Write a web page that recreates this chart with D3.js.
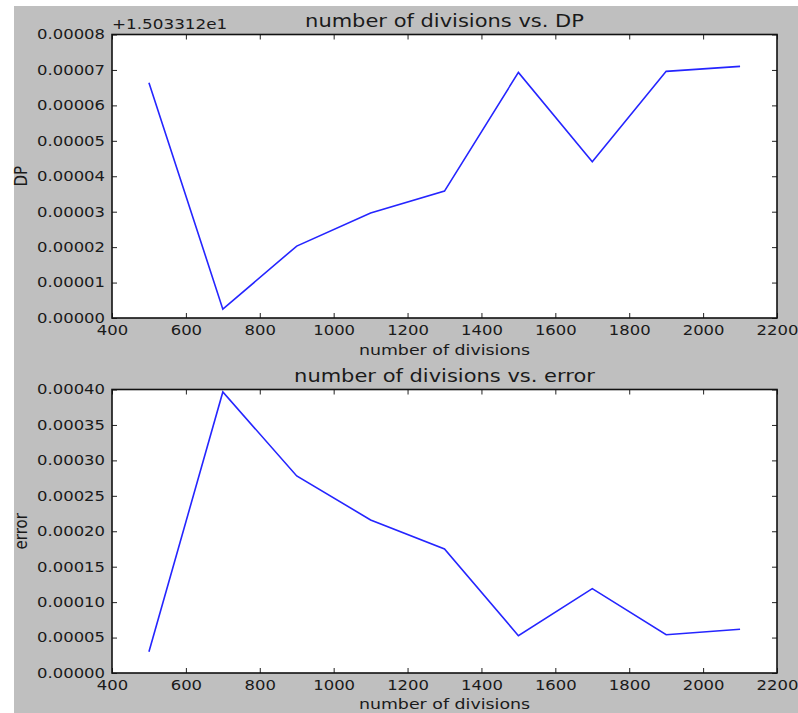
<!DOCTYPE html>
<html>
<head>
<meta charset="utf-8">
<script src="https://cdn.jsdelivr.net/npm/d3@7"></script>
<style>
  body { margin: 0; background: #fff; }
  text { font-family: "DejaVu Sans", sans-serif; fill: #1a1a1a; }
</style>
</head>
<body>
<div id="chart"></div>
<script>

// number of divisions used in each run
var divisions = [500, 700, 900, 1100, 1300, 1500, 1700, 1900, 2100];

// DP values, shown as offset from +1.503312e1
var dpOffset = [6.64e-5, 0.25e-5, 2.03e-5, 2.96e-5, 3.58e-5, 6.93e-5, 4.41e-5, 6.96e-5, 7.10e-5];

// error values
var errorValues = [3.0e-5, 3.965e-4, 2.78e-4, 2.16e-4, 1.75e-4, 0.527e-4, 1.19e-4, 0.54e-4, 0.617e-4];

var xTicks = [400, 600, 800, 1000, 1200, 1400, 1600, 1800, 2000, 2200];
var dpTicks = [0, 1e-5, 2e-5, 3e-5, 4e-5, 5e-5, 6e-5, 7e-5, 8e-5];
var errTicks = [0, 5e-5, 1e-4, 1.5e-4, 2e-4, 2.5e-4, 3e-4, 3.5e-4, 4e-4];

var width = 798;
var height = 713;

// the source image is stretched sideways, so the text is too
var sx = 1.2;

var svg = d3.select('#chart')
  .append('svg')
    .attr('width', width)
    .attr('height', height);

// grey figure background
svg.append('rect')
  .attr('x', 14)
  .attr('y', 6)
  .attr('width', width - 14)
  .attr('height', height - 6)
  .style('fill', '#bfbfbf');

var left = 112, right = 777;

var x = d3.scaleLinear()
  .domain([400, 2200])
  .range([left, right]);

// text placed at (tx, ty) and widened by sx
var addText = function(g, tx, ty, str, size, anchor, rotate){
  var t = g.append('text')
    .attr('transform', 'translate(' + tx + ',' + ty + ') scale(' + sx + ',1)' + (rotate ? ' rotate(-90)' : ''))
    .attr('text-anchor', anchor)
    .style('font-size', size + 'px')
    .text(str);
  return t;
}

/////////////////////////////
// one panel of the figure //
/////////////////////////////

var drawPanel = function(opts){
  var top = opts.top, bottom = opts.bottom;

  var y = d3.scaleLinear()
    .domain([0, opts.yMax])
    .range([bottom, top]);

  var g = svg.append('g');

  g.append('rect')
    .attr('x', left)
    .attr('y', top)
    .attr('width', right - left)
    .attr('height', bottom - top)
    .style('fill', '#fff');

  var line = d3.line()
    .x(function(d, i){ return x(divisions[i]) })
    .y(function(d){ return y(d) });

  g.append('path')
    .datum(opts.values)
    .attr('d', line)
    .style('fill', 'none')
    .style('stroke', '#2525ff')
    .style('stroke-width', 1.6);

  // ticks point inward on all four sides
  var xAxis = g.append('g')
    .attr('transform', 'translate(0,' + bottom + ')')
    .call(d3.axisBottom(x).tickValues(xTicks).tickSize(-5).tickPadding(7).tickFormat(d3.format('d')));
  var topAxis = g.append('g')
    .attr('transform', 'translate(0,' + top + ')')
    .call(d3.axisTop(x).tickValues(xTicks).tickSize(-5).tickFormat(''));

  var yAxis = g.append('g')
    .attr('transform', 'translate(' + left + ',0)')
    .call(d3.axisLeft(y).tickValues(opts.ticks).tickSize(-5).tickFormat(d3.format('.5f')));
  var rightAxis = g.append('g')
    .attr('transform', 'translate(' + right + ',0)')
    .call(d3.axisRight(y).tickValues(opts.ticks).tickSize(-5).tickFormat(''));

  [xAxis, topAxis, yAxis, rightAxis].forEach(function(a){
    a.select('.domain').remove();
    a.selectAll('line').style('stroke', '#222');
    a.selectAll('text')
      .style('font-size', '13.7px')
      .style('fill', '#1a1a1a')
      .attr('transform', 'scale(' + sx + ',1)');
  });
  // right edge of the y labels sits 7px left of the axis
  yAxis.selectAll('text').attr('x', -7/sx);

  // frame around the plot
  g.append('rect')
    .attr('x', left)
    .attr('y', top)
    .attr('width', right - left)
    .attr('height', bottom - top)
    .style('fill', 'none')
    .style('stroke', '#111')
    .style('stroke-width', 1.6);

  addText(g, (left + right)/2, top - opts.titleGap, opts.title, 17.5, 'middle');
  addText(g, (left + right)/2, bottom + opts.labelGap, 'number of divisions', 14.5, 'middle');
  addText(g, 26.5, (top + bottom)/2, opts.ylabel, 15, 'middle', true);

  if (opts.offset){
    addText(g, left, top - 5.2, opts.offset, 14, 'start');
  }
}

drawPanel({
  top: 34.5, bottom: 318, yMax: 8e-5, ticks: dpTicks, labelGap: 37, titleGap: 7.5,
  values: dpOffset, title: 'number of divisions vs. DP', ylabel: 'DP',
  offset: '+1.503312e1'
});

drawPanel({
  top: 389.5, bottom: 673, yMax: 4e-4, ticks: errTicks, labelGap: 35.5, titleGap: 8,
  values: errorValues, title: 'number of divisions vs. error', ylabel: 'error'
});

</script>
</body>
</html>
